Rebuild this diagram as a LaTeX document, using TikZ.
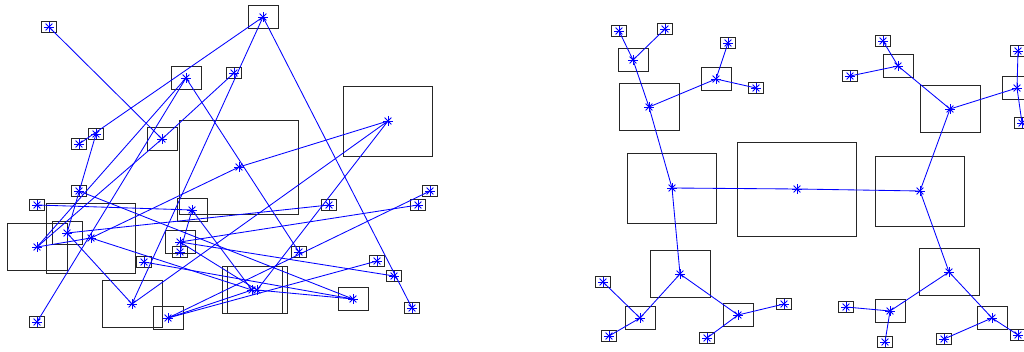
\documentclass[tikz,border=0pt]{standalone}
\begin{document}
\begin{tikzpicture}[x=1pt,y=-1pt]
\tikzset{
  box/.style={draw=black!85, line width=0.9pt, inner sep=0pt, outer sep=0pt},
  lvzero/.style={box, minimum width=119pt, minimum height=94pt},
  lvone/.style={box, minimum width=89pt, minimum height=70pt},
  lvtwo/.style={box, minimum width=60pt, minimum height=47pt},
  lvthree/.style={box, minimum width=30pt, minimum height=23.5pt},
  lvfour/.style={box, minimum width=15pt, minimum height=11.7pt},
  link/.style={draw=blue, line width=0.85pt},
  spoke/.style={draw=blue, line width=0.9pt}
}
\newcommand\astmark[1]{\foreach \a in {0,45,90,135}{\draw[spoke] (#1) ++(\a:4.8) -- ++(\a+180:9.6);}}
\useasboundingbox (0,0) rectangle (1024,352);
\clip (0,0) rectangle (1024,352);
% ---------------- left panel ----------------
\node[lvzero] (R) at (239,167) {};
\node[lvone] (A) at (388,121) {};
\node[lvone] (B) at (91,238) {};
\node[lvtwo] (C) at (37,247) {};
\node[lvtwo] (D) at (132,304) {};
\node[lvtwo] (E) at (252,290) {};
\node[lvtwo] (F) at (257,290) {};
\node[lvthree] (g) at (263,17) {};
\node[lvthree] (h) at (186,78) {};
\node[lvthree] (i) at (162,139) {};
\node[lvthree] (j) at (67,233) {};
\node[lvthree] (k) at (168,318) {};
\node[lvthree] (l) at (192,210) {};
\node[lvthree] (m) at (180,242) {};
\node[lvthree] (n) at (353,299) {};
\node[lvfour] (t1) at (49,27) {};
\node[lvfour] (t2) at (234,73) {};
\node[lvfour] (t3) at (96,134) {};
\node[lvfour] (t4) at (79,144) {};
\node[lvfour] (t5) at (79,191) {};
\node[lvfour] (t6) at (37,205) {};
\node[lvfour] (t7) at (144,262) {};
\node[lvfour] (t8) at (37,322) {};
\node[lvfour] (t9) at (180,252) {};
\node[lvfour] (t10) at (299,252) {};
\node[lvfour] (t11) at (329,205) {};
\node[lvfour] (t12) at (430,191) {};
\node[lvfour] (t13) at (418,205) {};
\node[lvfour] (t14) at (377,261) {};
\node[lvfour] (t15) at (394,276) {};
\node[lvfour] (t16) at (412,308) {};
\foreach \u/\v in {R/A,R/B,A/D,A/F,B/C,B/E,D/g,D/j,C/i,C/h,E/k,E/l,F/m,F/n,
  g/t16,g/t4,i/t1,i/t2,h/t8,h/t10,j/t3,j/t11,k/t14,k/t12,l/t6,l/t9,m/t13,m/t15,n/t5,n/t7}
  {\draw[link] (\u.center) -- (\v.center);}
\foreach \p in {R,A,B,C,D,E,F,g,h,i,j,k,l,m,n,t1,t2,t3,t4,t5,t6,t7,t8,t9,t10,t11,t12,t13,t14,t15,t16}
  {\astmark{\p.center}}
% ---------------- right panel ----------------
\node[lvzero] (r0) at (797,189) {};
\node[lvone] (rA) at (672,188) {};
\node[lvone] (rB) at (920,191) {};
\node[lvtwo] (rA1) at (649,107) {};
\node[lvtwo] (rA2) at (680,274) {};
\node[lvtwo] (rB1) at (950,109) {};
\node[lvtwo] (rB2) at (949,272) {};
\node[lvthree] (a11) at (633,60) {};
\node[lvthree] (a12) at (716,79) {};
\node[lvthree] (a21) at (640,318) {};
\node[lvthree] (a22) at (738,315) {};
\node[lvthree] (b11) at (898,66) {};
\node[lvthree] (b12) at (1017,88) {};
\node[lvthree] (b21) at (890,311) {};
\node[lvthree] (b22) at (992,318) {};
\node[lvfour] (s1) at (619,31) {};
\node[lvfour] (s2) at (665,29) {};
\node[lvfour] (s3) at (728,43) {};
\node[lvfour] (s4) at (756,88) {};
\node[lvfour] (s5) at (603,282) {};
\node[lvfour] (s6) at (609,336) {};
\node[lvfour] (s7) at (784,304) {};
\node[lvfour] (s8) at (707,338) {};
\node[lvfour] (s9) at (883,41) {};
\node[lvfour] (s10) at (850,76) {};
\node[lvfour] (s11) at (1018,51) {};
\node[lvfour] (s12) at (1022,123) {};
\node[lvfour] (s13) at (846,307) {};
\node[lvfour] (s14) at (885,342) {};
\node[lvfour] (s15) at (944,339) {};
\node[lvfour] (s16) at (1018,335) {};
\foreach \u/\v in {r0/rA,r0/rB,rA/rA1,rA/rA2,rB/rB1,rB/rB2,rA1/a11,rA1/a12,rA2/a21,rA2/a22,
  rB1/b11,rB1/b12,rB2/b21,rB2/b22,a11/s1,a11/s2,a12/s3,a12/s4,a21/s5,a21/s6,a22/s7,a22/s8,
  b11/s9,b11/s10,b12/s11,b12/s12,b21/s13,b21/s14,b22/s15,b22/s16}
  {\draw[link] (\u.center) -- (\v.center);}
\foreach \p in {r0,rA,rB,rA1,rA2,rB1,rB2,a11,a12,a21,a22,b11,b12,b21,b22,
  s1,s2,s3,s4,s5,s6,s7,s8,s9,s10,s11,s12,s13,s14,s15,s16}
  {\astmark{\p.center}}
\end{tikzpicture}
\end{document}
